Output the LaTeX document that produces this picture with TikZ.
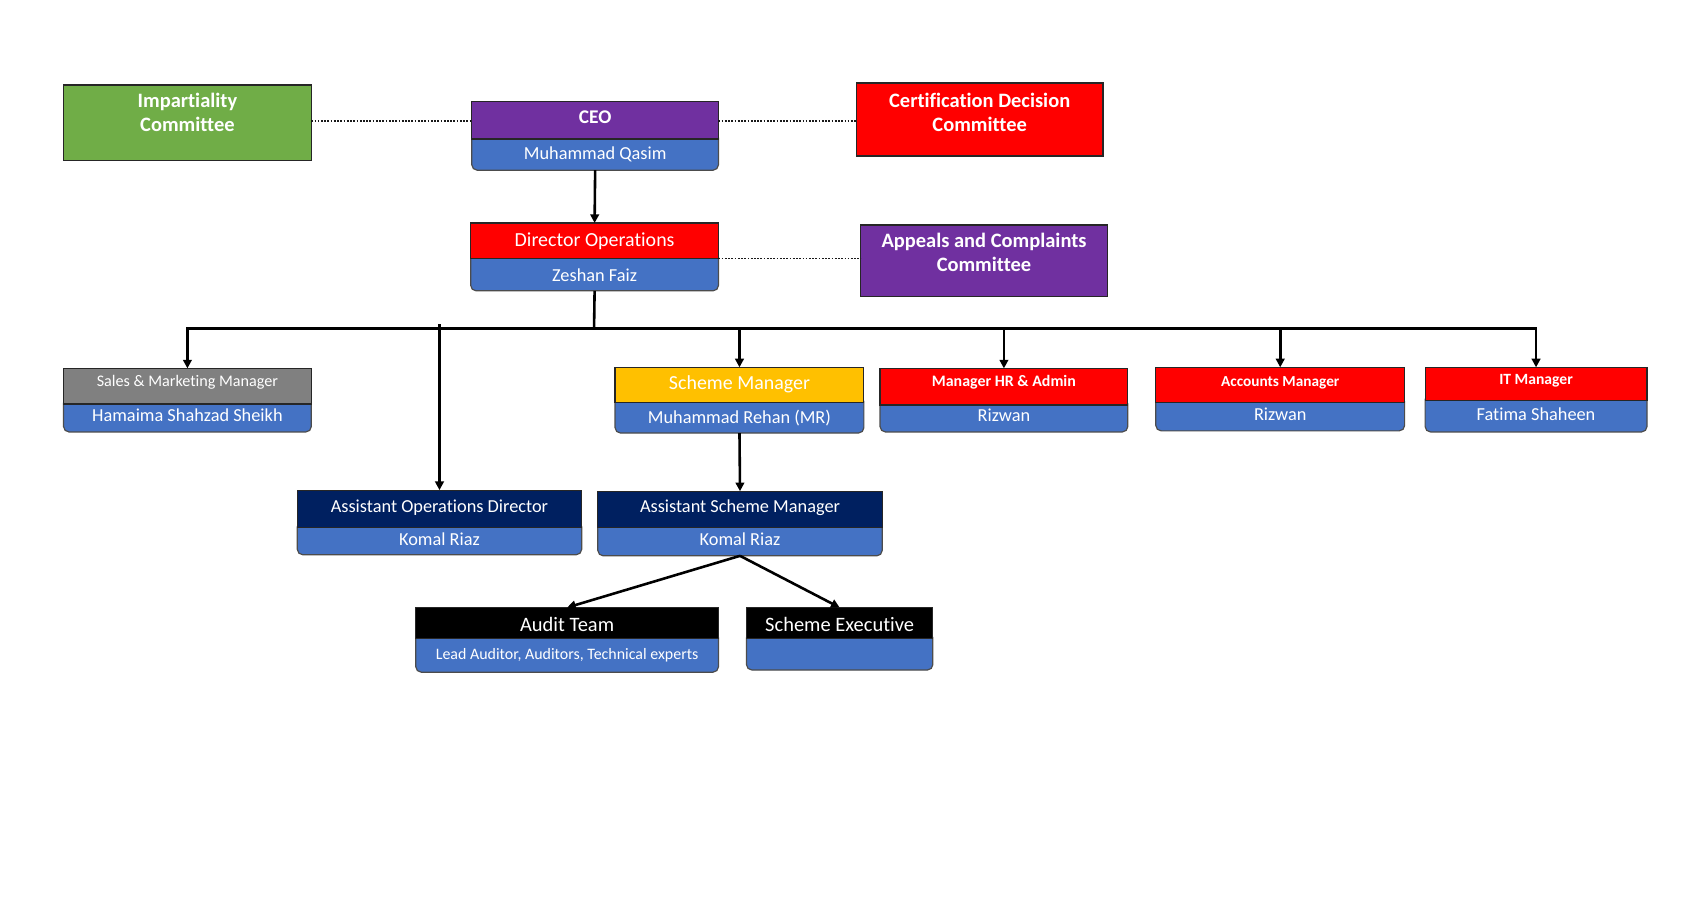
\documentclass[tikz,border=0pt]{standalone}
\usepackage{fontspec}
\setmainfont{Carlito}[Ligatures={NoCommon}]
\usetikzlibrary{arrows.meta}
\definecolor{cgreen}{HTML}{70AD47}
\definecolor{cpurple}{HTML}{7030A0}
\definecolor{cred}{HTML}{FF0000}
\definecolor{cblue}{HTML}{4472C4}
\definecolor{cgray}{HTML}{808080}
\definecolor{cyellow}{HTML}{FFC000}
\definecolor{cnavy}{HTML}{002060}
\newcommand\fsz[2]{\fontsize{#1}{#2}\selectfont}
\newcommand\tx[2]{\raisebox{#1}[0pt][0pt]{#2}}
\tikzset{
  hdr/.style={draw=black!85, line width=1.1pt, text=white, inner sep=0pt, outer sep=0pt},
  nm/.style={draw=black!70, fill=cblue, rounded corners=5pt, line width=1.1pt, text=white, inner sep=0pt, outer sep=0pt, font=\fsz{17}{19}},
  comm/.style={draw=black!85, line width=1.3pt, inner sep=0pt, outer sep=0pt},
  commtext/.style={anchor=north, align=center, text=white, font=\bfseries\fsz{19}{22}, inner sep=0pt},
  dots/.style={dash pattern=on 1.6pt off 1.4pt, line width=1.6pt, black!90},
  ln/.style={line width=2.4pt, black},
  arr/.style={line width=2.4pt, black, -{Triangle[length=8pt,width=8pt]}}
}
\begin{document}
\begin{tikzpicture}[x=1pt,y=-1pt]
\useasboundingbox (0,0) rectangle (1568,845);
\fill[white] (0,0) rectangle (1568,845);

% committees
\node[comm, fill=cgreen, minimum width=230pt, minimum height=70pt,
  label={[commtext, yshift=-7.5pt]north:Impartiality\\Committee}] (imp) at (174,114) {};
\node[comm, fill=cred, minimum width=229pt, minimum height=68pt,
  label={[commtext, yshift=-9.5pt]north:Certification Decision\\Committee}] (cert) at (909.5,111) {};
\node[comm, fill=cpurple, minimum width=229pt, minimum height=66pt,
  label={[commtext, yshift=-7.5pt]north:Appeals and Complaints\\Committee}] (app) at (913.5,242) {};

% name parts (drawn first)
\node[nm, minimum width=229pt, minimum height=35pt] (ceo-n) at (552.5,140.5) {\tx{-7.5pt}{Muhammad Qasim}};
\node[nm, minimum width=230pt, minimum height=36pt] (dir-n) at (552,252) {\tx{-9pt}{Zeshan Faiz}};
\node[nm, minimum width=230pt, minimum height=32pt] (sales-n) at (174,385) {\tx{-6pt}{Hamaima Shahzad Sheikh}};
\node[nm, minimum width=231pt, minimum height=34pt] (sm-n) at (686.5,385) {\tx{-8pt}{Muhammad Rehan (MR)}};
\node[nm, minimum width=230pt, minimum height=31pt] (hr-n) at (932,385.5) {\tx{-5.5pt}{Rizwan}};
\node[nm, minimum width=231pt, minimum height=32pt] (acc-n) at (1188.5,384) {\tx{-6pt}{Rizwan}};
\node[nm, minimum width=206pt, minimum height=35pt] (it-n) at (1426,383.5) {\tx{-6.5pt}{Fatima Shaheen}};
\node[nm, minimum width=264pt, minimum height=31pt] (aod-n) at (408,499.5) {\tx{-7pt}{Komal Riaz}};
\node[nm, minimum width=264pt, minimum height=32pt] (asm-n) at (687,500) {\tx{-6.5pt}{Komal Riaz}};
\node[nm, minimum width=281pt, minimum height=37pt, font=\fsz{14.8}{16}] (audit-n) at (526.5,605.5) {\tx{-7pt}{Lead Auditor, Auditors, Technical experts}};
\node[nm, minimum width=173pt, minimum height=35pt] (se-n) at (779.5,604.5) {};

% header parts
\node[hdr, fill=cpurple, minimum width=229pt, minimum height=35pt, font=\bfseries\fsz{18}{20}] (ceo) at (552.5,111.5) {\tx{-3pt}{CEO}};
\node[hdr, fill=cred, minimum width=230pt, minimum height=33pt, font=\fsz{18.5}{20}] (dir) at (552,223.5) {\tx{-5.5pt}{Director Operations}};
\node[hdr, fill=cgray, minimum width=230pt, minimum height=33pt, font=\fsz{15}{16}] (sales) at (174,358.5) {\tx{0pt}{Sales \& Marketing Manager}};
\node[hdr, fill=cyellow, minimum width=231pt, minimum height=33pt, font=\fsz{18.5}{20}] (sm) at (686.5,357.5) {\tx{-4.5pt}{Scheme Manager}};
\node[hdr, fill=cred, minimum width=230pt, minimum height=34pt, font=\bfseries\fsz{14.8}{16}] (hr) at (932,359) {\tx{0pt}{Manager HR \& Admin}};
\node[hdr, fill=cred, minimum width=231pt, minimum height=33pt, font=\bfseries\fsz{14.2}{16}] (acc) at (1188.5,357.5) {\tx{-1pt}{Accounts Manager}};
\node[hdr, fill=cred, minimum width=206pt, minimum height=31pt, font=\bfseries\fsz{14.5}{16}] (it) at (1426,356.5) {\tx{0pt}{IT Manager}};
\node[hdr, fill=cnavy, minimum width=264pt, minimum height=35pt, font=\fsz{17}{18}] (aod) at (408,472.5) {\tx{-3pt}{Assistant Operations Director}};
\node[hdr, fill=cnavy, minimum width=264pt, minimum height=34pt, font=\fsz{17}{18}] (asm) at (687,473) {\tx{-2.5pt}{Assistant Scheme Manager}};
\node[hdr, fill=black, minimum width=281pt, minimum height=29pt, font=\fsz{19}{20}] (audit) at (526.5,578.5) {\tx{-7.5pt}{Audit Team}};
\node[hdr, fill=black, minimum width=173pt, minimum height=29pt, font=\fsz{19}{20}] (se) at (779.5,578.5) {\tx{-7.5pt}{Scheme Executive}};

% dotted links
\draw[dots] (imp.east |- 0,112.5) -- (ceo.west |- 0,112.5);
\draw[dots] (ceo.east |- 0,112) -- (cert.west |- 0,112);
\draw[dots] (dir.south east) -- (dir.south east -| app.west);

% hierarchy
\draw[arr] (ceo-n.south) -- (dir.north);
\coordinate (bus) at (551.5,305);
\coordinate (aodtop) at (408,301);
\draw[ln] (dir-n.south) -- (bus);
\draw[arr] (bus) -| (sales.north);
\draw[arr] (bus) -| (sm.north);
\draw[arr] (bus) -| (hr.north);
\draw[arr] (bus) -| (acc.north);
\draw[arr] (bus) -| (it.north);
\draw[arr] (aodtop) -- (aod.north);
\draw[arr] (sm-n.south) -- (asm.north);
\draw[arr] (asm-n.south) -- (audit.north);
\draw[arr] (asm-n.south) -- (se.north);
\end{tikzpicture}
\end{document}
